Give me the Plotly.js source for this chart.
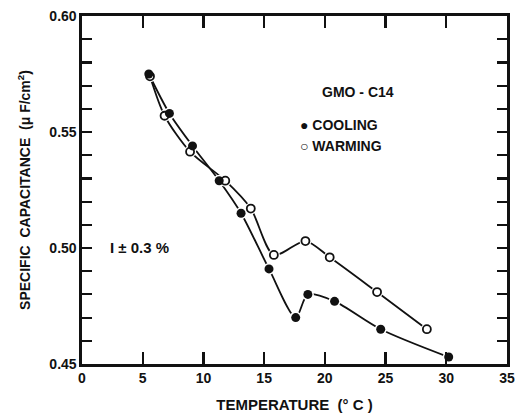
<!DOCTYPE html>
<html>
<head>
<meta charset="utf-8">
<script src="https://cdn.plot.ly/plotly-3.0.1.min.js"></script>
<style>html,body{margin:0;padding:0;background:#fff;}#chart{width:515px;height:416px;}</style>
</head>
<body>
<div id="chart"></div>
<script>
// GMO-C14 membrane: specific capacitance vs temperature
const coolingT = [5.5, 7.2, 9.1, 11.3, 13.1, 15.4, 17.6, 18.6, 20.8, 24.6, 30.2];
const coolingC = [0.575, 0.558, 0.544, 0.529, 0.515, 0.491, 0.470, 0.480, 0.477, 0.465, 0.453];
const warmingT = [5.6, 6.8, 8.9, 11.8, 13.9, 15.8, 18.4, 20.4, 24.3, 28.4];
const warmingC = [0.574, 0.557, 0.5415, 0.529, 0.517, 0.497, 0.503, 0.496, 0.481, 0.465];

const xTicks = [0, 5, 10, 15, 20, 25, 30, 35];
const yTicks = [0.45, 0.50, 0.55, 0.60];
const yTickText = ['0.45', '0.50', '0.55', '0.60'];

const ink = '#111';
const fam = 'Liberation Sans, Arial, sans-serif';
const bold = (size) => ({family: fam, size: size, color: ink, weight: 700});

const lineTrace = (x, y) => ({
  x, y, type: 'scatter', mode: 'lines',
  line: {color: ink, width: 1.8, shape: 'spline', smoothing: 0.8},
  hoverinfo: 'skip', showlegend: false
});
const haloTrace = (x, y) => ({
  x, y, type: 'scatter', mode: 'markers',
  marker: {color: '#fff', size: 12, line: {width: 0}},
  hoverinfo: 'skip', showlegend: false
});

const data = [
  lineTrace(coolingT, coolingC),
  lineTrace(warmingT, warmingC),
  haloTrace(coolingT, coolingC),
  haloTrace(warmingT, warmingC),
  {x: warmingT, y: warmingC, type: 'scatter', mode: 'markers', name: 'WARMING',
   marker: {symbol: 'circle', size: 8, color: '#fff', line: {color: ink, width: 1.8}}, showlegend: false},
  {x: coolingT, y: coolingC, type: 'scatter', mode: 'markers', name: 'COOLING',
   marker: {symbol: 'circle', size: 9, color: ink, line: {width: 0}}, showlegend: false}
];

const layout = {
  width: 515, height: 416,
  margin: {l: 82, r: 8, t: 16, b: 52},
  paper_bgcolor: '#fff', plot_bgcolor: '#fff',
  font: bold(13),
  xaxis: {
    range: [0, 35], tickvals: xTicks, ticktext: xTicks.map(String),
    ticks: 'inside', ticklen: 12, tickwidth: 2.2, tickcolor: ink,
    showline: true, linewidth: 2.6, linecolor: ink, mirror: 'ticks',
    showgrid: false, zeroline: false,
    tickfont: bold(14),
    title: {text: 'TEMPERATURE  (° C )', standoff: 14, font: bold(15)}
  },
  yaxis: {
    range: [0.45, 0.60], tickvals: yTicks, ticktext: yTickText,
    ticks: 'inside', ticklen: 10, tickwidth: 2.2, tickcolor: ink,
    minor: {dtick: 0.01, ticks: 'inside', ticklen: 10, tickwidth: 2.2, tickcolor: ink, showgrid: false},
    showline: true, linewidth: 2.6, linecolor: ink, mirror: 'ticks',
    showgrid: false, zeroline: false,
    tickfont: bold(14),
    title: {text: 'SPECIFIC  CAPACITANCE  (μ F/cm<sup>2</sup>)', standoff: 16, font: bold(14)}
  },
  annotations: [
    {xref: 'paper', yref: 'paper', x: 0.650, y: 0.782, xanchor: 'center', yanchor: 'middle',
     text: 'GMO - C14', showarrow: false, font: bold(14)},
    {xref: 'paper', yref: 'paper', x: 0.508, y: 0.688, xanchor: 'left', yanchor: 'middle',
     text: '● COOLING', showarrow: false, font: bold(14)},
    {xref: 'paper', yref: 'paper', x: 0.508, y: 0.627, xanchor: 'left', yanchor: 'middle',
     text: '○ WARMING', showarrow: false, font: bold(14)},
    {xref: 'paper', yref: 'paper', x: 0.060, y: 0.335, xanchor: 'left', yanchor: 'middle',
     text: 'I ± 0.3 %', showarrow: false, font: bold(15)}
  ]
};

Plotly.newPlot('chart', data, layout, {displayModeBar: false, staticPlot: true});
</script>
</body>
</html>
